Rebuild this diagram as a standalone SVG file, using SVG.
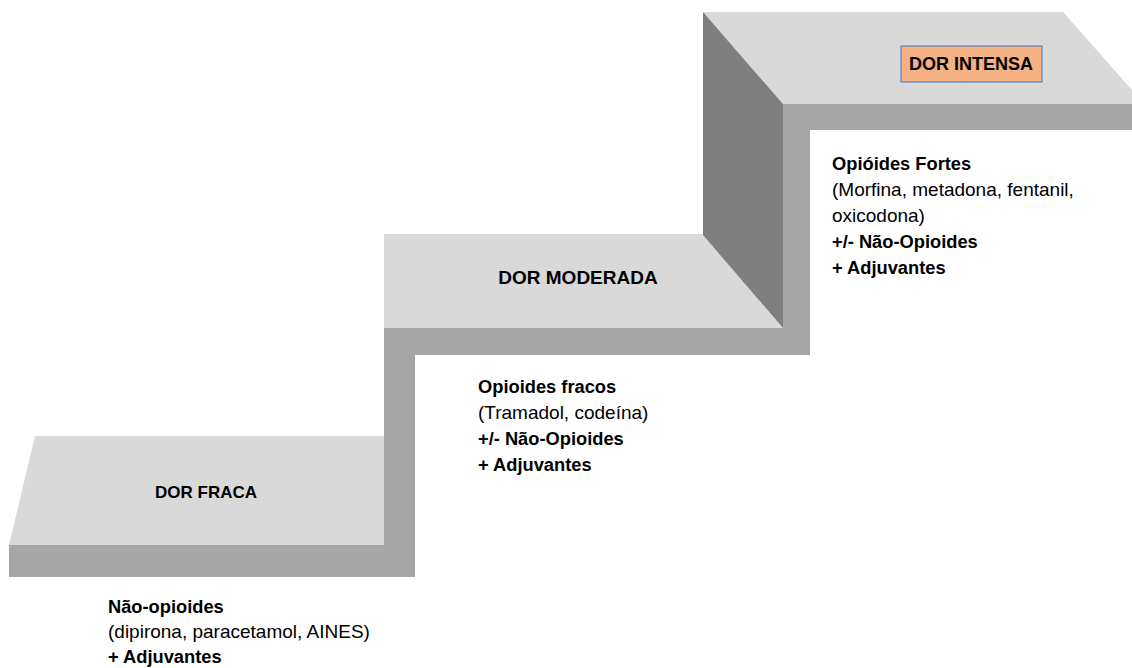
<svg xmlns="http://www.w3.org/2000/svg" width="1132" height="668" viewBox="0 0 1132 668">
<style>
.top{fill:#d9d9d9}
.band{fill:#a6a6a6}
.face{fill:#7f7f7f}
text{font-family:"Liberation Sans",Arial,sans-serif;font-size:19px;fill:#000}
.b{font-weight:bold;font-size:18.3px}
.lbl{font-weight:bold;font-size:18px;text-anchor:middle}
</style>
<rect width="1132" height="668" fill="#fff"/>
<g id="step-fraca">
<polygon class="top" points="35,436 384,436 384,545 9,545"/>
<rect class="band" x="9" y="545" width="406" height="32"/>
<text class="lbl" x="206" y="498" style="font-size:17px">DOR FRACA</text>
</g>
<g id="step-moderada">
<polygon class="band" points="384,328 810,328 810,355 415,355 415,577 384,577"/>
<polygon class="top" points="384,234 703,234 783,328 384,328"/>
<text class="lbl" x="578" y="284" style="font-size:19px">DOR MODERADA</text>
</g>
<g id="step-intensa">
<polygon class="band" points="783,104 1132,104 1132,130 810,130 810,355 783,355"/>
<polygon class="top" points="703,12 1063,12 1132,90 1132,104 783,104"/>
<polygon class="face" points="703,12 783,104 783,328 703,235"/>
<rect x="901" y="46" width="141" height="36" fill="#f4b183" stroke="#4472c4" stroke-width="1"/>
<text class="lbl" x="971" y="70">DOR INTENSA</text>
</g>
<g id="text-fraca">
<text class="b" x="108" y="613">Não-opioides</text>
<text x="108" y="638">(dipirona, paracetamol, AINES)</text>
<text class="b" x="108" y="663">+ Adjuvantes</text>
</g>
<g id="text-moderada">
<text class="b" x="478" y="393">Opioides fracos</text>
<text x="478" y="419">(Tramadol, codeína)</text>
<text class="b" x="478" y="445">+/- Não-Opioides</text>
<text class="b" x="478" y="471">+ Adjuvantes</text>
</g>
<g id="text-intensa">
<text class="b" x="832" y="170">Opióides Fortes</text>
<text x="832" y="196">(Morfina, metadona, fentanil,</text>
<text x="832" y="222">oxicodona)</text>
<text class="b" x="832" y="248">+/- Não-Opioides</text>
<text class="b" x="832" y="274">+ Adjuvantes</text>
</g>
</svg>
